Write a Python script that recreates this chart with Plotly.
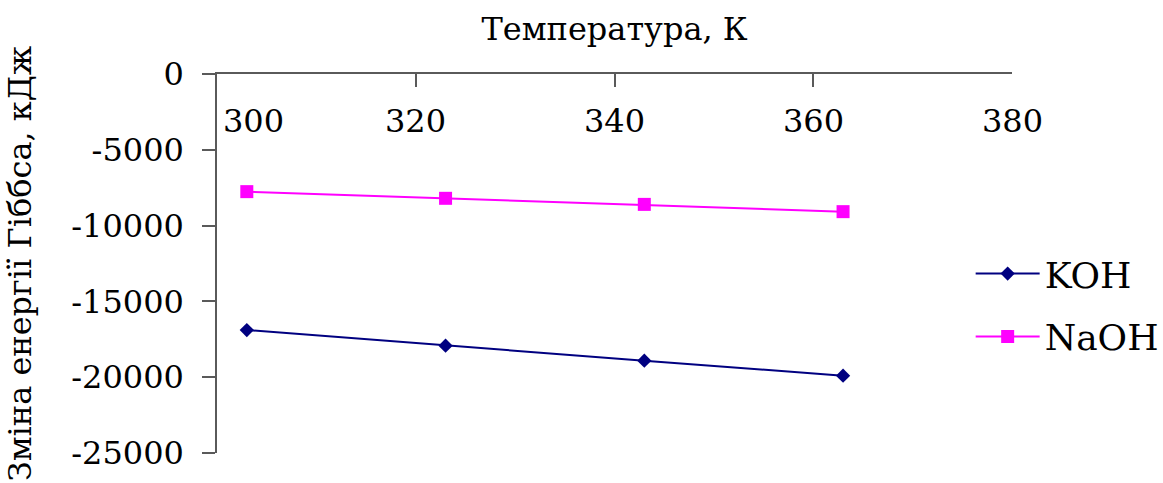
import plotly.graph_objects as go

# Temperature points, K
temperature = [303, 323, 343, 363]
# Gibbs energy change, kJ
koh = [-16890, -17920, -18910, -19900]
naoh = [-7760, -8200, -8600, -9080]

x_ticks = [300, 320, 340, 360, 380]
x_tick_labels = ["300", "320", "340", "360", "380"]
y_ticks = [0, -5000, -10000, -15000, -20000, -25000]
y_tick_labels = ["0", "-5000", "-10000", "-15000", "-20000", "-25000"]

FONT = "DejaVu Serif"
AXIS_COLOR = "#5a5a5a"

fig = go.Figure()
fig.add_trace(go.Scatter(
    x=temperature, y=koh, name="KOH", mode="lines+markers",
    legendgroup="koh",
    line=dict(color="#000080", width=2),
    marker=dict(symbol="diamond", size=11, color="#000080"),
))
fig.add_trace(go.Scatter(
    x=temperature, y=naoh, name="NaOH", mode="lines+markers",
    legendgroup="naoh",
    line=dict(color="#FF00FF", width=2),
    marker=dict(symbol="square", size=13, color="#FF00FF"),
))

# x tick labels sit just below the top axis line; the first one is nudged
# right so it clears the vertical axis
for val, txt in zip(x_ticks, x_tick_labels):
    fig.add_annotation(
        x=val, xref="x", y=0, yref="y", yshift=-47, text=txt,
        showarrow=False, xshift=36 if val == x_ticks[0] else 0,
        font=dict(family=FONT, size=32, color="black"),
    )

fig.update_layout(
    width=1163, height=483,
    margin=dict(l=217, r=151, t=74, b=30, autoexpand=False),
    paper_bgcolor="white", plot_bgcolor="white",
    font=dict(family=FONT, size=32, color="black"),
    showlegend=True,
    legend=dict(
        x=0.948, y=0.39, xanchor="left", yanchor="middle",
        font=dict(family=FONT, size=36, color="black"),
        bgcolor="rgba(0,0,0,0)", itemwidth=64, tracegroupgap=13,
    ),
    xaxis=dict(
        range=[300, 380], side="top", showgrid=False, zeroline=False,
        showline=True, linecolor=AXIS_COLOR, linewidth=1.5,
        ticks="inside", ticklen=13, tickcolor=AXIS_COLOR, tickwidth=1.5,
        tickvals=x_ticks, showticklabels=False,
        title=dict(text="Температура, К", standoff=22,
                   font=dict(family=FONT, size=32, color="black")),
    ),
    yaxis=dict(
        range=[-25000, 0], showgrid=False, zeroline=False,
        showline=True, linecolor=AXIS_COLOR, linewidth=1.5,
        ticks="outside", ticklen=13, tickcolor=AXIS_COLOR, tickwidth=1.5,
        tickvals=y_ticks, ticktext=y_tick_labels, ticklabelstandoff=12,
        tickfont=dict(family=FONT, size=32, color="black"),
        title=dict(text="Зміна енергії Гіббса, кДж", standoff=30,
                   font=dict(family=FONT, size=32, color="black")),
    ),
)

fig.write_html("out.html")
